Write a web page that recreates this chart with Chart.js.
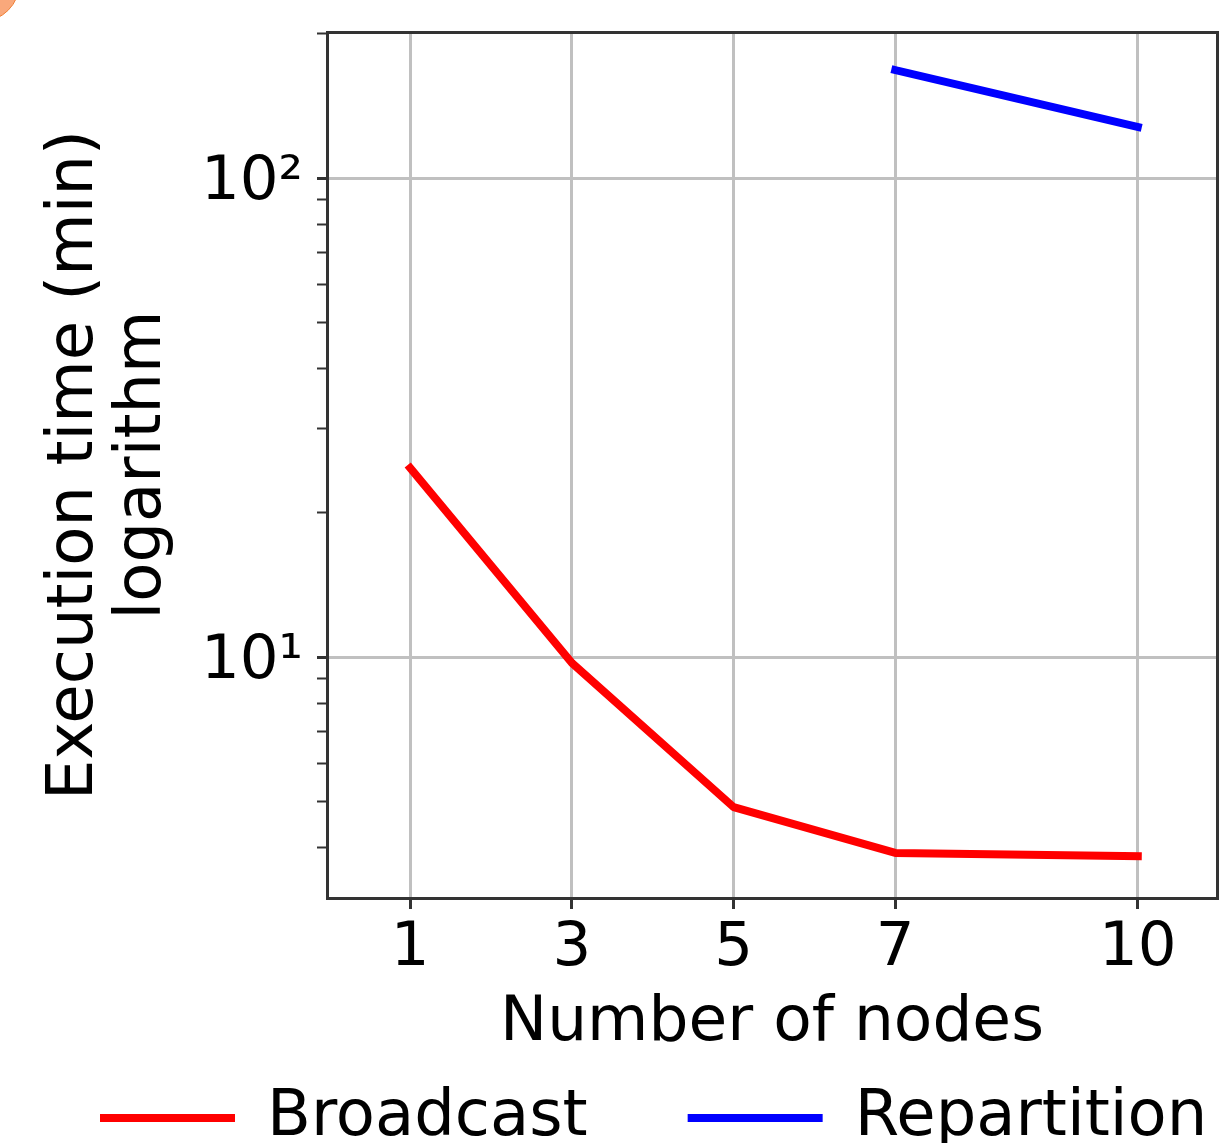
<!DOCTYPE html>
<html>
<head>
<meta charset="utf-8">
<script src="https://cdn.jsdelivr.net/npm/chart.js@4.4.1/dist/chart.umd.min.js"></script>
<style>
    html, body { margin: 0; padding: 0; background: #fff; }
    body { width: 1219px; height: 1143px; overflow: hidden; position: relative; }
    #wrap { position: absolute; left: 0; top: 0; width: 1400px; height: 1160px; }
    #dot { position: absolute; left: -58px; top: -56px; width: 76px; height: 76px;
           border-radius: 50%; background: #f9a87b; border: 1px solid #ef7f35; }
</style>
</head>
<body>
<div id="wrap"><canvas id="execChart"></canvas></div>
<div id="dot"></div>
<script>
// Execution time vs number of nodes (log y axis)
const nodes = [1, 3, 5, 7, 10];
const broadcastTimes = [24.8, 9.72, 4.86, 3.90, 3.84];
const repartitionNodes = [7, 10];
const repartitionTimes = [168, 127.8];

const xTicks = [1, 3, 5, 7, 10];
const yMajorTicks = [10, 100];
const yMajorLabels = ['10\u00b9', '10\u00b2'];

const FONT = "'DejaVu Sans', 'Liberation Sans', sans-serif";
const GRID = '#c0c0c0';
const AXIS = '#333333';

function toPoints(xs, ys) {
    return xs.map((x, i) => ({ x: x, y: ys[i] }));
}

function isMajorY(v) {
    return yMajorTicks.includes(v);
}

// keep chart area fixed, no extra room for overhanging labels
function noPad(scale) {
    scale.paddingTop = 0;
    scale.paddingBottom = 0;
    scale.paddingLeft = 0;
    scale.paddingRight = 0;
}

const ctx = document.getElementById('execChart').getContext('2d');

new Chart(ctx, {
    type: 'line',
    data: {
        datasets: [{
            label: 'Broadcast',
            data: toPoints(nodes, broadcastTimes),
            borderColor: '#ff0000',
            backgroundColor: '#ff0000',
            borderWidth: 8,
            borderCapStyle: 'square',
            borderJoinStyle: 'round',
            pointRadius: 0,
            tension: 0
        }, {
            label: 'Repartition',
            data: toPoints(repartitionNodes, repartitionTimes),
            borderColor: '#0000ff',
            backgroundColor: '#0000ff',
            borderWidth: 8,
            borderCapStyle: 'square',
            borderJoinStyle: 'round',
            pointRadius: 0,
            tension: 0
        }]
    },
    options: {
        responsive: true,
        maintainAspectRatio: false,
        animation: false,
        layout: { padding: 0 },
        scales: {
            x: {
                type: 'linear',
                position: 'bottom',
                min: -0.03,
                max: 10.98,
                afterBuildTicks: function(scale) {
                    scale.ticks = xTicks.map(v => ({ value: v }));
                },
                afterFit: function(scale) { scale.height = 88; noPad(scale); },
                grid: {
                    color: GRID,
                    lineWidth: 3,
                    tickColor: AXIS,
                    tickWidth: 3,
                    tickLength: 11
                },
                border: { color: AXIS, width: 3 },
                ticks: {
                    autoSkip: false,
                    maxRotation: 0,
                    color: '#000',
                    padding: 4,
                    font: { family: FONT, size: 61 },
                    callback: function(value) { return String(value); }
                },
                title: {
                    display: true,
                    text: 'Number of nodes',
                    color: '#000',
                    font: { family: FONT, size: 63 },
                    padding: { top: 0, bottom: -75 }
                }
            },
            y: {
                type: 'logarithmic',
                position: 'left',
                min: 3.14,
                max: 201.8,
                afterBuildTicks: function(scale) {
                    const list = [];
                    [1, 10, 100].forEach(d => {
                        for (let m = 1; m <= 9; m++) {
                            const v = m * d;
                            if (v > scale.min && v < scale.max) list.push({ value: v });
                        }
                    });
                    scale.ticks = list;
                },
                afterFit: function(scale) { scale.width = 327; noPad(scale); },
                grid: {
                    color: c => (c.tick && isMajorY(c.tick.value)) ? GRID : 'rgba(0,0,0,0)',
                    lineWidth: 3,
                    tickColor: AXIS,
                    tickWidth: c => (c.tick && isMajorY(c.tick.value)) ? 3 : 2,
                    tickLength: 10
                },
                border: { color: AXIS, width: 3 },
                ticks: {
                    autoSkip: false,
                    color: '#000',
                    padding: 14,
                    labelOffset: 5,
                    font: { family: FONT, size: 61 },
                    callback: function(value) {
                        const i = yMajorTicks.indexOf(value);
                        return i >= 0 ? yMajorLabels[i] : '';
                    }
                },
                title: {
                    display: true,
                    text: ['Execution time (min)', 'logarithm'],
                    color: '#000',
                    font: { family: FONT, size: 64, lineHeight: 1.07 },
                    padding: { top: 41, bottom: 0 }
                }
            },
            xTop: {
                type: 'linear',
                axis: 'x',
                position: 'top',
                afterFit: function(scale) { scale.height = 32; noPad(scale); },
                grid: { display: false, drawTicks: false },
                border: { display: true, color: AXIS, width: 3 },
                ticks: { display: false }
            },
            yRight: {
                type: 'linear',
                axis: 'y',
                position: 'right',
                afterFit: function(scale) { scale.width = 183; noPad(scale); },
                grid: { display: false, drawTicks: false },
                border: { display: true, color: AXIS, width: 3 },
                ticks: { display: false }
            }
        },
        plugins: {
            title: { display: false },
            tooltip: { enabled: false },
            legend: {
                display: true,
                position: 'bottom',
                align: 'start',
                labels: {
                    boxWidth: 135,
                    boxHeight: 8,
                    padding: 100,
                    color: '#000',
                    font: { family: FONT, size: 64 },
                    generateLabels: function(chart) {
                        return Chart.defaults.plugins.legend.labels.generateLabels(chart)
                            .map(item => Object.assign({}, item, {
                                fillStyle: item.strokeStyle,
                                lineWidth: 0
                            }));
                    }
                }
            }
        }
    }
});
</script>
</body>
</html>
